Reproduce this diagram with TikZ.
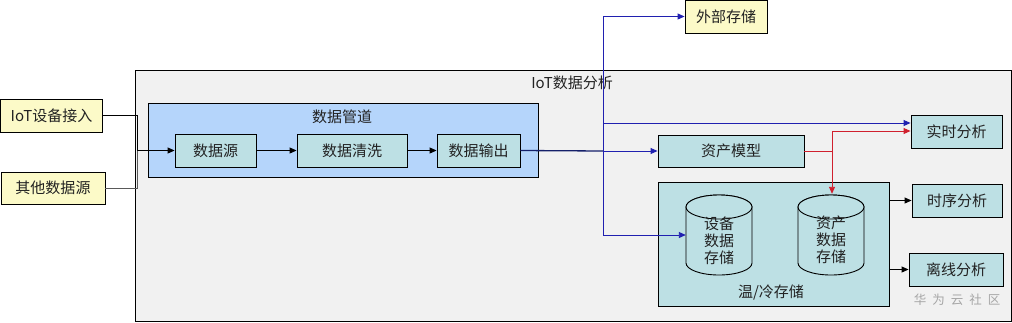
\documentclass[tikz,border=0pt]{standalone}
\usepackage{fontspec}
\setmainfont{Noto Sans CJK SC}
\usetikzlibrary{arrows.meta,calc}
\definecolor{ylw}{HTML}{FCFAC8}
\definecolor{teal}{HTML}{BDE0E4}
\definecolor{pipeblue}{HTML}{B5D5FB}
\definecolor{outerg}{HTML}{F1F1F1}
\definecolor{bl}{HTML}{2020B0}
\definecolor{navy}{HTML}{15206A}
\definecolor{rd}{HTML}{D0202E}
\definecolor{txt}{HTML}{222222}
\tikzset{
  box/.style={draw=black, line width=0.9pt, inner sep=0pt, font=\fontsize{15}{16}\selectfont, text=txt},
  ybox/.style={box, fill=ylw},
  tbox/.style={box, fill=teal},
  arr/.style={line width=0.9pt, -{Triangle[length=7pt,width=6pt]}},
  ln/.style={line width=0.9pt},
  lbl/.style={font=\fontsize{15}{16}\selectfont, text=txt, inner sep=0pt},
  cyl/.style={draw=black, line width=0.9pt, fill=teal},
}
\begin{document}
\begin{tikzpicture}[x=1pt,y=-1pt]
\useasboundingbox (0,0) rectangle (1012,322);
% containers
\node[box, fill=outerg, minimum width=876, minimum height=251] (outer) at (573,195.5) {};
\node[lbl] (outerlbl) at (572,83) {IoT数据分析};
\node[box, fill=pipeblue, minimum width=390, minimum height=74] (pipe) at (343,140) {};
\node[lbl] (pipelbl) at (342,117) {数据管道};
\node[tbox, minimum width=231, minimum height=124] (warm) at (773.5,244) {};
\node[lbl] (warmlbl) at (771,293) {温/冷存储};
% left inputs
\node[ybox, minimum width=102, minimum height=33] (iot) at (51.5,115.5) {IoT设备接入};
\node[ybox, minimum width=104, minimum height=32] (other) at (53,188) {其他数据源};
% pipeline
\node[tbox, minimum width=81, minimum height=33] (src) at (215.5,150.5) {数据源};
\node[tbox, minimum width=110, minimum height=33] (clean) at (352,150.5) {数据清洗};
\node[tbox, minimum width=83, minimum height=33] (out) at (478.5,150.5) {数据输出};
% right side
\node[ybox, minimum width=82, minimum height=33] (ext) at (726,16.5) {外部存储};
\node[tbox, minimum width=91, minimum height=33] (rt) at (956.5,131.5) {实时分析};
\node[tbox, minimum width=146, minimum height=32] (asset) at (731,151) {资产模型};
\node[tbox, minimum width=90, minimum height=33] (ts) at (957,200.5) {时序分析};
\node[tbox, minimum width=94, minimum height=33] (off) at (956,269.5) {离线分析};
% cylinders
\foreach \cx in {719, 831}{
  \draw[cyl] (\cx-33,207) -- (\cx-33,263) arc[start angle=180, end angle=360, x radius=33, y radius=-12] -- (\cx+33,207) arc[start angle=0, end angle=180, x radius=33, y radius=-12] -- cycle;
  \draw[cyl] (\cx,207) ellipse[x radius=33, y radius=12];
}
\node[minimum width=66, minimum height=80, inner sep=0pt] (cyla) at (719,235) {};
\node[minimum width=66, minimum height=80, inner sep=0pt] (cylb) at (831,234) {};
\node[lbl, align=center] (cylatxt) at (719,240.5) {设备\\[1pt]数据\\[1pt]存储};
\node[lbl, align=center] (cylbtxt) at (831,239.5) {资产\\[1pt]数据\\[1pt]存储};
% watermark
\node[font=\fontsize{12.5}{14}\selectfont, text=black!35, inner sep=0pt] (wm) at (957,299.5) {华\hspace{6pt}为\hspace{6pt}云\hspace{6pt}社\hspace{6pt}区};
% junctions
\coordinate (j1) at (137,150.5);
\coordinate (jb) at (603,151);
\coordinate (jr) at (832,151);
% connectors
\draw[ln] (iot.east) -| (j1);
\draw[ln, draw=black!65] (other.east) -| (j1);
\draw[arr] (j1) -- (src.west);
\draw[arr] (src.east) -- (clean.west);
\draw[arr] (clean.east) -- (out.west);
\draw[ln, draw=navy, line width=1.3pt] (out.east) -- (jb);
\draw[arr, draw=bl] (jb) -- (asset.west);
\draw[arr, draw=bl] (jb) |- (ext.west);
\draw[arr, draw=bl] (jb) |- ([yshift=8.5pt]rt.west);
\draw[arr, draw=bl] (jb) |- (cyla.west);
\draw[ln, draw=rd] (asset.east) -- (jr);
\draw[arr, draw=rd] (jr) |- ([yshift=0.5pt]rt.west);
\draw[arr, draw=rd] (jr) -- (cylb.north -| jr);
\draw[arr] (warm.east |- ts.west) -- (ts.west);
\draw[arr] (warm.east |- off.west) -- (off.west);
\end{tikzpicture}
\end{document}
